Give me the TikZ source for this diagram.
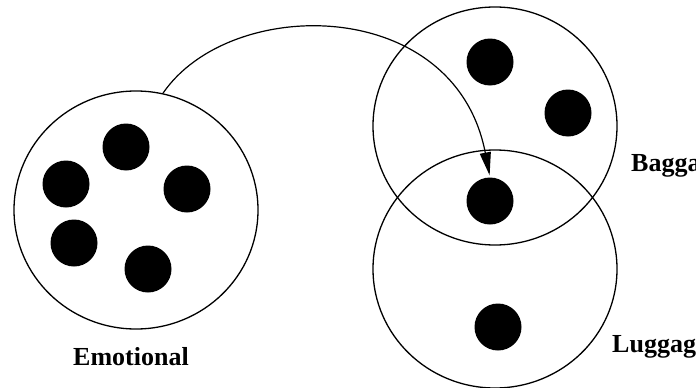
\documentclass[tikz,border=0pt]{standalone}
\usepackage{fontspec}
\setmainfont{Liberation Serif}
\usetikzlibrary{shapes.geometric,arrows.meta}
\begin{document}
\begin{tikzpicture}[x=1pt,y=-1pt,
  ring/.style={draw=black,line width=1.3pt,ellipse,minimum width=244pt,minimum height=238pt,inner sep=0pt},
  dot/.style={circle,fill=black,minimum size=47pt,inner sep=0pt},
  lbl/.style={font=\fontsize{26}{30}\selectfont\bfseries,inner sep=0pt}]
\useasboundingbox (0,0) rectangle (696,388);
\fill[white] (0,0) rectangle (696,388);
% circles
\node[ring] (emo) at (136,210) {};
\node[ring] (bag) at (495,126) {};
\node[ring] (lug) at (495,269) {};
% dots
\node[dot] (e1) at (126,147) {};
\node[dot] (e2) at (66,184) {};
\node[dot] (e3) at (187,189) {};
\node[dot] (e4) at (74,243) {};
\node[dot] (e5) at (148,269) {};
\node[dot] (b1) at (490,62) {};
\node[dot] (b2) at (568,113) {};
\node[dot] (mid) at (490,201) {};
\node[dot] (l1) at (498,327) {};
% labels
\node[lbl,anchor=base] (temo) at (131,365) {Emotional};
\node[lbl,anchor=base west] (tbag) at (631,171) {Bagga};
\node[lbl,anchor=base west] (tlug) at (612,352) {Luggag};
% arrow
\draw[line width=1.2pt,-{Triangle[length=23pt,width=11pt]},shorten >=2pt]
  (emo.77) .. controls (230,-5) and (455,-5) .. (mid.north);
\end{tikzpicture}
\end{document}
